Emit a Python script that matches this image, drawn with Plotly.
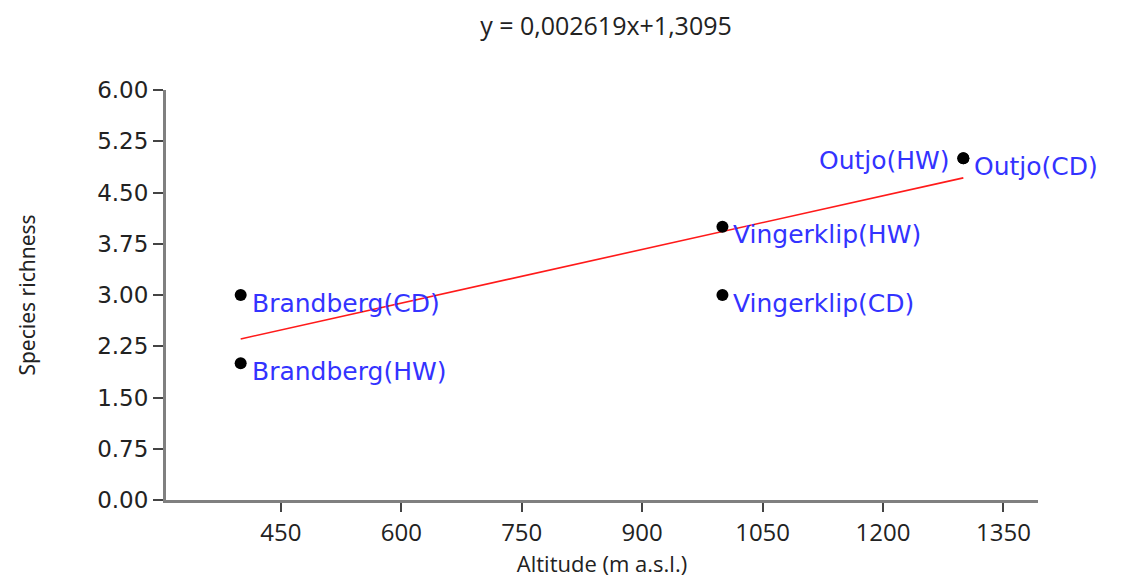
import plotly.graph_objects as go

# ---- data ----
sites = ["Brandberg(CD)", "Brandberg(HW)", "Vingerklip(HW)", "Vingerklip(CD)", "Outjo(HW)", "Outjo(CD)"]
altitude = [400, 400, 1000, 1000, 1300, 1300]
richness = [3, 2, 4, 3, 5, 5]
slope = 0.002619
intercept = 1.3095
fit_x = [400, 1300]
x_ticks = [450, 600, 750, 900, 1050, 1200, 1350]
y_ticks = [0, 0.75, 1.5, 2.25, 3.0, 3.75, 4.5, 5.25, 6.0]
title_text = "y = 0,002619x+1,3095"

fit_y = [slope * v + intercept for v in fit_x]

fig = go.Figure()
fig.add_trace(go.Scatter(x=fit_x, y=fit_y, mode="lines",
                         line=dict(color="#ff1a1a", width=1.6), showlegend=False, hoverinfo="skip"))
fig.add_trace(go.Scatter(x=altitude, y=richness, mode="markers",
                         marker=dict(color="black", size=12), showlegend=False))

# label placement (style only)
label_style = {
    "Outjo(HW)": dict(xanchor="right", xshift=-11, yshift=-2),
}
for s, xv, yv in zip(sites, altitude, richness):
    st = label_style.get(s, dict(xanchor="left", xshift=9, yshift=-8))
    fig.add_annotation(x=xv, y=yv, text=s, showarrow=False,
                       xanchor=st["xanchor"], yanchor="middle",
                       xshift=st["xshift"], yshift=st["yshift"],
                       font=dict(family="DejaVu Sans", size=25, color="#3333ff"))

fig.update_layout(
    width=1139, height=578,
    paper_bgcolor="white", plot_bgcolor="white",
    margin=dict(l=158, r=109, t=82, b=86),
    title=dict(text=title_text, x=0.525, xanchor="center", y=0.968, yanchor="middle",
               font=dict(family="Open Sans", size=25, color="#222")),
    xaxis=dict(range=[307, 1393], tickvals=x_ticks, ticktext=[str(v) for v in x_ticks],
               automargin=False,
               showgrid=False, zeroline=False, showline=True, linecolor="#808080", linewidth=3,
               ticks="outside", ticklen=9, tickwidth=2, tickcolor="#444",
               tickfont=dict(family="Open Sans", size=24, color="#222"),
               title=dict(text="Altitude (m a.s.l.)", standoff=8,
                          font=dict(family="Open Sans", size=22, color="#222"))),
    yaxis=dict(range=[0, 6], tickvals=y_ticks, ticktext=[f"{v:.2f}" for v in y_ticks],
               automargin=False,
               showgrid=False, zeroline=False, showline=True, linecolor="#808080", linewidth=3,
               ticks="outside", ticklen=10, tickwidth=2, tickcolor="#444",
               tickfont=dict(family="DejaVu Sans", size=23, color="#222"),
               title=dict(text="Species richness", standoff=56,
                          font=dict(family="Noto Sans", size=21, color="#222"))),
)

fig.write_html("out.html")
